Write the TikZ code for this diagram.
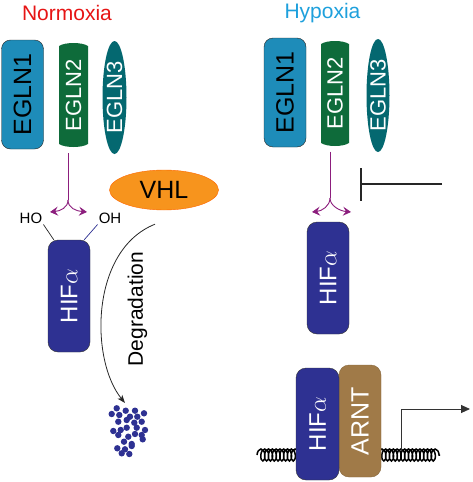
\documentclass[tikz,border=0pt]{standalone}
\usepackage{fontspec}
\setmainfont{Liberation Sans}
\usetikzlibrary{arrows.meta,shapes.geometric,decorations.pathmorphing}

\definecolor{eglnA}{RGB}{30,140,185}
\definecolor{eglnB}{RGB}{14,107,58}
\definecolor{eglnC}{RGB}{4,104,112}
\definecolor{hifblue}{RGB}{46,49,146}
\definecolor{arntbrown}{RGB}{160,122,72}
\definecolor{vhlorange}{RGB}{247,148,29}
\definecolor{purparrow}{RGB}{140,30,125}
\definecolor{normred}{RGB}{230,20,20}
\definecolor{hypocyan}{RGB}{30,160,220}

\tikzset{
  eglnone/.style={draw=black!85, fill=eglnA, rounded corners=9pt, minimum width=42pt,
    minimum height=109pt, inner sep=0pt, font=\fontsize{25}{25}\selectfont},
  eglntwo/.style={inner sep=0pt, minimum width=28pt, minimum height=104pt, text=white,
    font=\fontsize{22}{22}\selectfont},
  eglnthree/.style={ellipse, fill=eglnC, inner sep=0pt, minimum width=24pt,
    minimum height=113pt, text=white, font=\fontsize{22}{22}\selectfont},
  hifbox/.style={draw=black!80, fill=hifblue, rounded corners=10pt, minimum width=42pt,
    minimum height=112pt, inner sep=0pt, text=white, font=\fontsize{24}{24}\selectfont},
  arntbox/.style={hifbox, fill=arntbrown, draw=arntbrown!85!black,
    font=\fontsize{25}{25}\selectfont},
  vhlshape/.style={ellipse, draw=orange!80!red, fill=vhlorange, minimum width=109pt,
    minimum height=40pt, inner sep=0pt, font=\fontsize{25}{25}\selectfont},
  state/.style={font=\fontsize{21}{21}\selectfont},
  hydroxyl/.style={inner sep=1pt, font=\fontsize{15}{15}\selectfont},
  purp/.style={draw=purparrow, line width=0.9pt},
  purptip/.style={purp, -{Stealth[length=8pt,width=9pt,inset=3pt]}},
  degr/.style={draw=black!85, line width=0.8pt, -{Stealth[length=8pt,width=6pt,inset=2pt]}},
  inhib/.style={draw=black!85, line width=2.2pt, -{Bar[width=33pt]}},
  dna/.style={draw=black, line width=1.5pt, decorate,
    decoration={coil, amplitude=6pt, segment length=3.8pt, aspect=0.5}},
  promo/.style={draw=black!80, line width=0.9pt, -{Triangle[length=9pt,width=8pt]}}
}

\begin{document}
\begin{tikzpicture}[x=1pt, y=-1pt]

\useasboundingbox (0,0) rectangle (472,482);

% Normoxia
\node[state, text=normred] (normoxia) at (67,13) {Normoxia};

\node[eglnone] (egln1L) at (22.5,94.5) {\rotatebox{90}{EGLN1}};
\fill[eglnB] (59,46) .. controls (65,42) and (82,42) .. (88,46) -- (88,144)
  .. controls (82,148) and (65,148) .. (59,144) -- cycle;
\node[eglntwo] (egln2L) at (73.5,95) {\rotatebox{90}{EGLN2}};
\node[eglnthree] (egln3L) at (114.5,97.5) {\rotatebox{90}{EGLN3}};

\coordinate (forkL) at (68,200);
\coordinate (tipLa) at (50,212);
\coordinate (tipLb) at (87,212);
\draw[purp] ([xshift=-5.5pt,yshift=-6pt]egln2L.south) -- (forkL);
\draw[purptip] (forkL) .. controls (68,208) and (60,211) .. (tipLa);
\draw[purptip] (forkL) .. controls (68,208) and (76,211) .. (tipLb);

\node[vhlshape] (vhl) at (164,190) {VHL};

\node[hydroxyl] (hoL) at (31,218) {HO};
\node[hydroxyl] (ohL) at (110,218) {OH};
\node[hifbox] (hifL) at (69,296) {\rotatebox{90}{HIF$\alpha$}};
\draw[black!85, line width=0.7pt] (hoL.south east) -- ([xshift=6pt]hifL.north west);
\draw[hifblue, line width=0.7pt] (ohL.south west) -- ([xshift=-6pt]hifL.north east);

\coordinate (debris) at (125,403);
\draw[degr] ([xshift=-9pt,yshift=-14pt]vhl.south) .. controls (90,250) and (90,360) .. (debris);
\node[font=\fontsize{21}{21}\selectfont] (degtext) at (137.5,309) {\rotatebox{90}{Degradation}};

\foreach \dx/\dy in {116.7/408.3, 125.7/410.7, 135/410.7, 144/413.3,
  111.7/414, 119.3/415, 130/416.7, 137.3/416.7,
  118.3/421.7, 126.7/420, 134.3/422.7, 141.7/421.7,
  113.3/431, 120.7/430, 126.7/427.7, 136.7/427.7, 145/430,
  118.3/435, 128.3/436.7, 135/434, 141.7/435,
  124/441.7, 131.7/444, 142.7/439.3,
  117.3/448.3, 125/449.3, 131.7/446,
  121.7/453.3, 129.3/454}
  \fill[hifblue] (\dx,\dy) circle (3.2pt);

% Hypoxia
\node[state, text=hypocyan] (hypoxia) at (322.5,13) {Hypoxia};

\node[eglnone] (egln1R) at (285,92.5) {\rotatebox{90}{EGLN1}};
\fill[eglnB] (321,44) .. controls (327,40) and (343,40) .. (349,44) -- (349,143)
  .. controls (343,147) and (327,147) .. (321,143) -- cycle;
\node[eglntwo] (egln2R) at (335,93.5) {\rotatebox{90}{EGLN2}};
\node[eglnthree, minimum width=23pt] (egln3R) at (378,95.5) {\rotatebox{90}{EGLN3}};

\coordinate (forkR) at (330,198);
\coordinate (tipRa) at (312,212);
\coordinate (tipRb) at (351,212);
\draw[purp] ([xshift=-5pt,yshift=-6pt]egln2R.south) -- (forkR);
\draw[purptip] (forkR) .. controls (330,206) and (322,211) .. (tipRa);
\draw[purptip] (forkR) .. controls (330,206) and (340,211) .. (tipRb);

\coordinate (inhA) at (442,184);
\coordinate (inhB) at (360,184);
\draw[inhib] (inhA) -- (inhB);

\node[hifbox] (hifR) at (328,278) {\rotatebox{90}{HIF$\alpha$}};

% DNA
\coordinate (dnaL1) at (257,455);
\coordinate (dnaL2) at (300,455);
\coordinate (dnaR1) at (378,455);
\coordinate (dnaR2) at (440,455);
\draw[dna] (dnaL1) -- (dnaL2);
\draw[dna] (dnaR1) -- (dnaR2);

\node[arntbox] (arnt) at (360,421) {\rotatebox{90}{ARNT}};
\node[hifbox, minimum width=43pt] (hifB) at (317.5,424) {\rotatebox{90}{HIF$\alpha$}};

\coordinate (tss) at (401,451);
\coordinate (tssEnd) at (470,409);
\draw[promo] (tss) |- (tssEnd);

\end{tikzpicture}
\end{document}
